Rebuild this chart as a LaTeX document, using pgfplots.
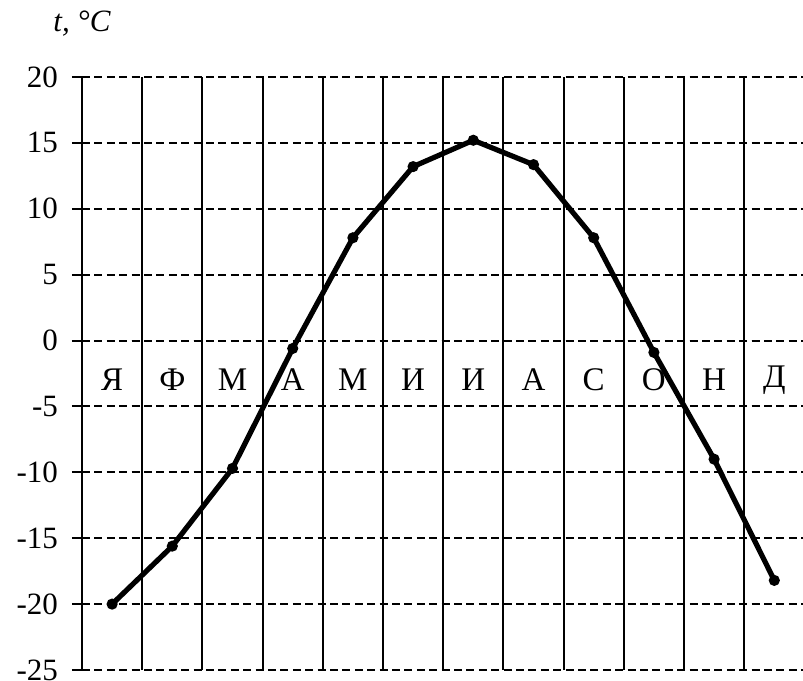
\documentclass[border=0pt]{standalone}
\usepackage{pgfplots}
\pgfplotsset{compat=1.18}
\usepackage{fontspec}
\setmainfont{Liberation Serif}

\begin{document}
\begin{tikzpicture}
\begin{axis}[
    scale only axis,
    width=361.2pt, height=296.5pt,
    xmin=0, xmax=12,
    ymin=-25, ymax=20,
    axis line style={draw=none},
    xtick={0,...,12},
    xticklabels={},
    major x tick style={draw=none},
    xmajorgrids=true,
    x grid style={black, line width=1pt},
    ytick={-25,-20,-15,-10,-5,0,5,10,15,20},
    yticklabels={-25,-20,-15,-10,-5,0,5,10,15,20},
    ymajorgrids=true,
    y grid style={black, line width=1pt, dash pattern=on 4pt off 2.2pt},
    extra y ticks={0},
    extra y tick labels={},
    extra y tick style={grid style={black, line width=1pt, solid}},
    tick align=outside,
    major tick length=5pt,
    tick style={black, line width=1pt},
    yticklabel style={font=\fontsize{15.5}{18}\selectfont, xshift=-3.5pt},
    clip=false,
]
\foreach \m [count=\i from 0] in {Я,Ф,М,А,М,И,И,А,С,О,Н,Д} {
    \edef\tmp{\noexpand\node[font=\noexpand\fontsize{16.5}{19}\noexpand\selectfont, inner sep=1pt] at (axis cs:\i+0.5,-3) {\m};}
    \tmp
}
\addplot[black, line width=2.6pt, mark=*, mark size=1.4pt] coordinates {
    (0.5,-20.0) (1.5,-15.6) (2.5,-9.7) (3.5,-0.6) (4.5,7.8) (5.5,13.2)
    (6.5,15.2) (7.5,13.35) (8.5,7.8) (9.5,-0.9) (10.5,-9.0) (11.5,-18.2)
};
\node[font=\fontsize{15.5}{18}\selectfont\itshape] at ([yshift=26.5pt]rel axis cs:0,1) {t, °C};
\end{axis}
\pgfresetboundingbox
\path (-41pt,-5pt) rectangle (360.5pt,335pt);
\end{tikzpicture}
\end{document}
